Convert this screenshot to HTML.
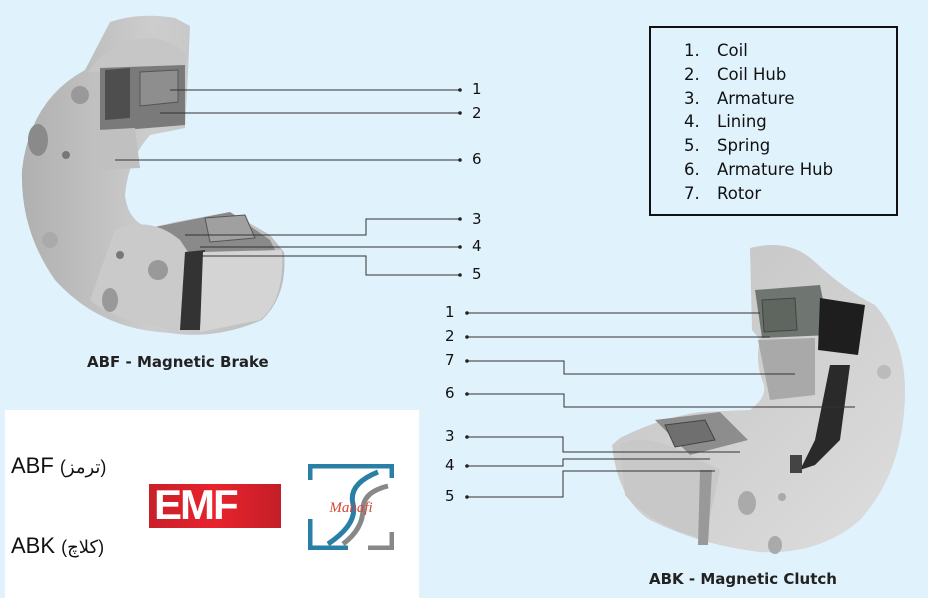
<!DOCTYPE html>
<html><head><meta charset="utf-8"><style>
body{margin:0;width:928px;height:598px;background:#e0f2fc;overflow:hidden;position:relative;font-family:"DejaVu Sans","Liberation Sans",sans-serif;}
.t{position:absolute;color:#111;white-space:nowrap}
</style></head><body>
<svg width="928" height="598" style="position:absolute;left:0;top:0">
<defs>
<linearGradient id="g1" x1="0" y1="0" x2="1" y2="0"><stop offset="0" stop-color="#b0b0b0"/><stop offset="0.5" stop-color="#cdcdcd"/><stop offset="1" stop-color="#bcbcbc"/></linearGradient>
<linearGradient id="g2" x1="0" y1="0" x2="1" y2="1"><stop offset="0" stop-color="#c2c2c2"/><stop offset="1" stop-color="#dedede"/></linearGradient>
</defs>
<!-- Brake -->
<path d="M85,70 L110,22 Q140,12 175,18 L190,26 L188,72 L185,128 L150,135 Q128,160 125,195 Q128,222 150,228 L175,222 L230,212 L270,235 L284,252 Q288,295 262,320 Q215,340 170,333 Q100,330 55,280 Q20,230 22,170 Q30,100 85,70 Z" fill="url(#g1)"/>
<path d="M88,72 Q110,40 150,38 Q175,40 186,55 L186,70 Z" fill="#c6c6c6"/>
<path d="M100,68 L185,65 L185,125 L100,132 Z" fill="#7a7a7a"/>
<path d="M140,72 L178,70 L178,102 L140,106 Z" fill="#8e8e8e" stroke="#555"/>
<path d="M105,70 L130,68 L130,118 L105,120 Z" fill="#4e4e4e"/>
<path d="M98,130 L135,128 L140,168 L98,170 Z" fill="#c0c0c0"/>
<path d="M150,228 L230,212 L270,240 L275,250 L190,258 Z" fill="#8a8a8a"/>
<path d="M205,218 L245,215 L255,238 L210,242 Z" fill="#a0a0a0" stroke="#555"/>
<path d="M115,230 Q150,215 180,240 L190,255 L185,330 Q120,325 90,300 Z" fill="#cacaca"/>
<path d="M185,252 L205,250 L200,330 L180,330 Z" fill="#333"/>
<path d="M203,252 L282,250 Q285,300 260,320 L200,332 Z" fill="#d4d4d4"/>
<circle cx="158" cy="270" r="10" fill="#999"/><circle cx="80" cy="95" r="9" fill="#999"/>
<ellipse cx="38" cy="140" rx="10" ry="16" fill="#8a8a8a"/><circle cx="66" cy="155" r="4" fill="#777"/>
<circle cx="120" cy="255" r="4" fill="#777"/><ellipse cx="110" cy="300" rx="8" ry="12" fill="#999"/>
<circle cx="50" cy="240" r="8" fill="#aaa"/>
<!-- Clutch -->
<path d="M750,248 Q790,238 815,262 Q845,290 875,305 Q905,340 905,390 Q905,470 860,520 Q820,555 760,552 Q700,545 650,520 Q618,500 612,445 L620,438 Q660,418 700,412 L750,410 Q770,395 762,380 Q755,360 760,340 L752,330 Z" fill="url(#g2)"/>
<path d="M755,290 L820,285 L830,335 L762,338 Z" fill="#6f7570"/>
<path d="M762,300 L795,298 L797,330 L764,332 Z" fill="#5f6660" stroke="#444"/>
<path d="M758,340 L815,338 L815,395 L770,400 Z" fill="#a9a9a9"/>
<path d="M820,298 L865,305 L858,355 L818,350 Z" fill="#1e1e1e"/>
<path d="M830,365 L850,365 L840,440 L815,465 L800,470 L815,440 Z" fill="#2a2a2a"/>
<path d="M655,420 L720,412 L748,440 L690,455 Z" fill="#8d8d8d"/>
<path d="M665,425 L705,420 L715,440 L675,447 Z" fill="#6f6f6f" stroke="#444"/>
<path d="M620,445 Q640,430 690,455 L720,470 L705,540 Q650,525 625,495 Z" fill="#c8c8c8"/>
<path d="M700,470 L712,470 L708,545 L698,545 Z" fill="#999"/>
<rect x="790" y="455" width="12" height="18" fill="#444"/>
<ellipse cx="747" cy="503" rx="9" ry="12" fill="#aaa"/><ellipse cx="775" cy="545" rx="7" ry="9" fill="#aaa"/>
<circle cx="782" cy="497" r="4" fill="#aaa"/><circle cx="884" cy="372" r="7" fill="#bbb"/>
<g stroke="#333" stroke-width="1" fill="none">
<path d="M170,90 H460"/><path d="M160,113 H460"/><path d="M115,160 H460"/>
<path d="M185,235 H366 V219 H460"/><path d="M200,247 H460"/><path d="M185,256 H366 V275 H460"/>
<path d="M467,313 H760"/><path d="M467,337 H770"/><path d="M467,361 H564 V374 H795"/>
<path d="M467,394 H564 V407 H855"/><path d="M467,437 H563 V452 H740"/>
<path d="M467,466 H563 V459 H710"/><path d="M467,497 H563 V471 H715"/>
</g>
<g fill="#222">
<circle cx="460" cy="90" r="1.8"/><circle cx="460" cy="113" r="1.8"/><circle cx="460" cy="160" r="1.8"/>
<circle cx="460" cy="219" r="1.8"/><circle cx="460" cy="247" r="1.8"/><circle cx="460" cy="275" r="1.8"/>
<circle cx="467" cy="313" r="1.8"/><circle cx="467" cy="337" r="1.8"/><circle cx="467" cy="361" r="1.8"/>
<circle cx="467" cy="394" r="1.8"/><circle cx="467" cy="437" r="1.8"/><circle cx="467" cy="466" r="1.8"/><circle cx="467" cy="497" r="1.8"/>
</g>
</svg>
<div class="t" style="left:472px;top:80px;font-size:15px">1</div>
<div class="t" style="left:472px;top:104px;font-size:15px">2</div>
<div class="t" style="left:472px;top:150px;font-size:15px">6</div>
<div class="t" style="left:472px;top:210px;font-size:15px">3</div>
<div class="t" style="left:472px;top:237px;font-size:15px">4</div>
<div class="t" style="left:472px;top:265px;font-size:15px">5</div>
<div class="t" style="left:445px;top:303px;font-size:15px">1</div>
<div class="t" style="left:445px;top:327px;font-size:15px">2</div>
<div class="t" style="left:445px;top:351px;font-size:15px">7</div>
<div class="t" style="left:445px;top:384px;font-size:15px">6</div>
<div class="t" style="left:445px;top:427px;font-size:15px">3</div>
<div class="t" style="left:445px;top:456px;font-size:15px">4</div>
<div class="t" style="left:445px;top:487px;font-size:15px">5</div>
<div class="t" style="left:87px;top:353px;font-size:15px;font-weight:bold;color:#222">ABF - Magnetic Brake</div>
<div class="t" style="left:649px;top:570px;font-size:15px;font-weight:bold;color:#222">ABK - Magnetic Clutch</div>
<div style="position:absolute;left:649px;top:26px;width:245px;height:186px;border:2px solid #111"></div>
<div class="t" style="left:684px;top:39px;font-size:16.5px;line-height:23.8px">1.<br>2.<br>3.<br>4.<br>5.<br>6.<br>7.</div>
<div class="t" style="left:717px;top:39px;font-size:16.5px;line-height:23.8px">Coil<br>Coil Hub<br>Armature<br>Lining<br>Spring<br>Armature Hub<br>Rotor</div>
<div style="position:absolute;left:5px;top:410px;width:414px;height:188px;background:#fff"></div>
<div class="t" style="left:11px;top:453px;font-size:22px;font-family:'Liberation Sans','DejaVu Sans',sans-serif">ABF <span style="font-size:18px">(ترمز)</span></div>
<div class="t" style="left:11px;top:533px;font-size:22px;font-family:'Liberation Sans','DejaVu Sans',sans-serif">ABK <span style="font-size:18px">(کلاچ)</span></div>
<div style="position:absolute;left:149px;top:484px;width:132px;height:44px;background:linear-gradient(90deg,#c8202a,#e8232c,#c41e28)"></div>
<div class="t" style="left:154px;top:482px;font-size:42px;line-height:46px;font-weight:900;color:#fff;font-family:'Liberation Sans',sans-serif;letter-spacing:-2px">EMF</div>
<svg width="86" height="86" style="position:absolute;left:308px;top:464px">
<path d="M2,16 V2 H84 V14" stroke="#2a7fa6" stroke-width="5" fill="none"/>
<path d="M2,55 V84 H40" stroke="#2a7fa6" stroke-width="5" fill="none"/>
<path d="M60,84 H84 V68" stroke="#888" stroke-width="5" fill="none"/>
<path d="M70,8 Q40,20 45,40 Q50,60 20,80" stroke="#2a7fa6" stroke-width="5" fill="none"/>
<path d="M80,22 Q55,28 55,45 Q55,65 35,80" stroke="#888" stroke-width="5" fill="none"/>
<text x="43" y="48" font-family="Liberation Serif" font-style="italic" font-size="15" fill="#d04a3a" text-anchor="middle">Manafi</text>
</svg>
</body></html>
